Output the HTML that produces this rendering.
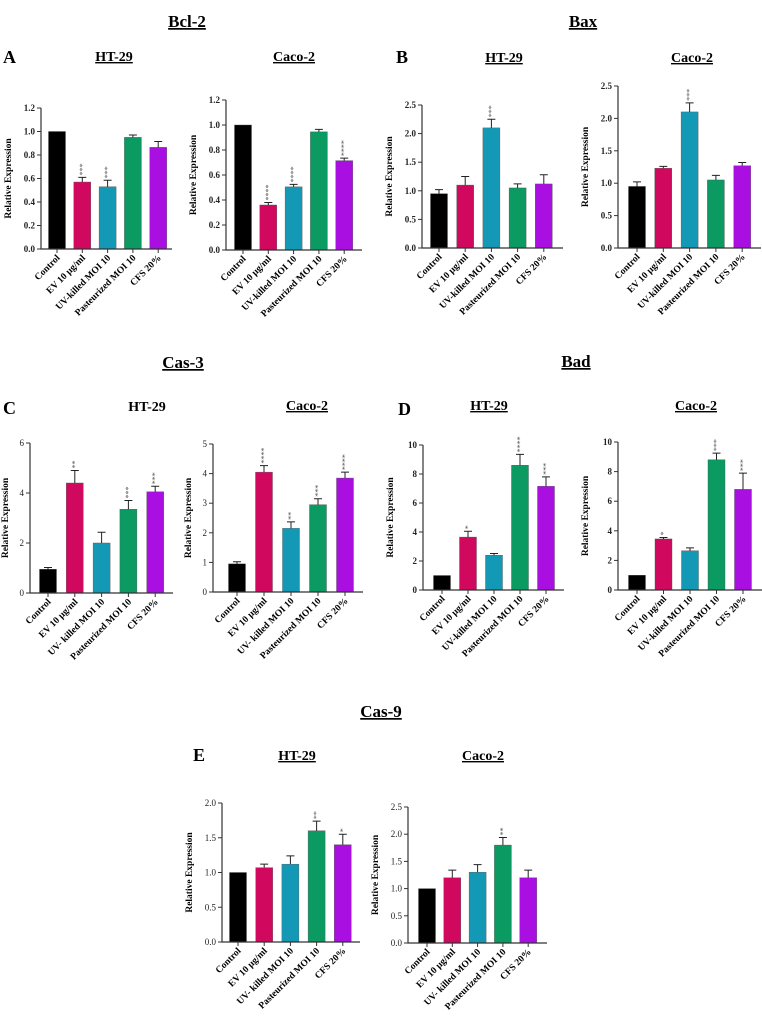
<!DOCTYPE html>
<html><head><meta charset="utf-8"><style>
html,body{margin:0;padding:0;background:#fff}
svg{display:block;font-family:"Liberation Serif",serif}
</style></head><body>
<svg id="fig" width="762" height="1016" viewBox="0 0 762 1016">
<g id="heads" font-weight="bold" fill="#000">
<text x="187" y="27" font-size="17" text-anchor="middle" text-decoration="underline">Bcl-2</text>
<text x="583" y="27" font-size="17" text-anchor="middle" text-decoration="underline">Bax</text>
<text x="183" y="368" font-size="17" text-anchor="middle" text-decoration="underline">Cas-3</text>
<text x="576" y="367" font-size="17" text-anchor="middle" text-decoration="underline">Bad</text>
<text x="381" y="717" font-size="17" text-anchor="middle" text-decoration="underline">Cas-9</text>
<text x="3" y="63" font-size="18">A</text>
<text x="396" y="63" font-size="18">B</text>
<text x="3" y="414" font-size="18">C</text>
<text x="398" y="415" font-size="18">D</text>
<text x="193" y="761" font-size="18">E</text>
</g>
<g id="charts"></g>
</svg>
<script>
// Category labels
const cats = ["Control","EV 10 µg/ml","UV-killed MOI 10","Pasteurized MOI 10","CFS 20%"];
const cats2 = ["Control","EV 10 µg/ml","UV- killed MOI 10","Pasteurized MOI 10","CFS 20%"];
const colors = ["#000000","#d0095f","#1399b5","#0a9a62","#a90fe0"];
// Data per panel
const aHtVals = [1.0,0.57,0.53,0.95,0.865];
const aHtErr = [0,0.04,0.055,0.02,0.05];
const aHtSig = ["","***","***","",""];
const aCaVals = [1.0,0.36,0.505,0.945,0.715];
const aCaErr = [0,0.02,0.02,0.02,0.02];
const aCaSig = ["","****","****","","****"];
const bHtVals = [0.95,1.1,2.1,1.05,1.12];
const bHtErr = [0.07,0.15,0.15,0.07,0.16];
const bHtSig = ["","","***","",""];
const bCaVals = [0.95,1.23,2.1,1.05,1.27];
const bCaErr = [0.07,0.03,0.14,0.07,0.05];
const bCaSig = ["","","***","",""];
const cHtVals = [0.95,4.4,2.0,3.35,4.05];
const cHtErr = [0.07,0.5,0.43,0.35,0.22];
const cHtSig = ["","**","","***","***"];
const cCaVals = [0.95,4.05,2.15,2.95,3.85];
const cCaErr = [0.07,0.22,0.22,0.2,0.2];
const cCaSig = ["","****","**","***","****"];
const dHtVals = [1.0,3.65,2.4,8.6,7.15];
const dHtErr = [0,0.4,0.12,0.75,0.65];
const dHtSig = ["","*","","****","***"];
const dCaVals = [1.0,3.45,2.65,8.8,6.8];
const dCaErr = [0,0.1,0.2,0.45,1.1];
const dCaSig = ["","*","","***","***"];
const eHtVals = [1.0,1.07,1.12,1.6,1.4];
const eHtErr = [0,0.05,0.12,0.14,0.15];
const eHtSig = ["","","","**","*"];
const eCaVals = [1.0,1.2,1.3,1.8,1.2];
const eCaErr = [0,0.14,0.14,0.14,0.14];
const eCaSig = ["","","","**",""];
const ticksA = ["0.0","0.2","0.4","0.6","0.8","1.0","1.2"];
const ticksB = ["0.0","0.5","1.0","1.5","2.0","2.5"];
const ticksC1 = ["0","2","4","6"];
const ticksC2 = ["0","1","2","3","4","5"];
const ticksD = ["0","2","4","6","8","10"];
const ticksE1 = ["0.0","0.5","1.0","1.5","2.0"];
const ticksE2 = ["0.0","0.5","1.0","1.5","2.0","2.5"];

const NS="http://www.w3.org/2000/svg";
const root=document.getElementById('charts');
function mk(tag,attrs,parent){const e=document.createElementNS(NS,tag);for(const k in attrs)e.setAttribute(k,attrs[k]);parent.appendChild(e);return e;}

const panels=[
 {id:"a-ht",title:"HT-29",tx:114,ty:61,ul:1,ax:41,x1:172,y0:249,yt:108,ticks:ticksA,c0:57,dc:25.3,vals:aHtVals,err:aHtErr,sig:aHtSig,cats:cats,bold:1},
 {id:"a-caco",title:"Caco-2",tx:294,ty:61,ul:1,ax:226,x1:362,y0:250,yt:100,ticks:ticksA,c0:243,dc:25.3,vals:aCaVals,err:aCaErr,sig:aCaSig,cats:cats,bold:1},
 {id:"b-ht",title:"HT-29",tx:504,ty:62,ul:1,ax:422,x1:563,y0:248,yt:105,ticks:ticksB,c0:439,dc:26.2,vals:bHtVals,err:bHtErr,sig:bHtSig,cats:cats,bold:1},
 {id:"b-caco",title:"Caco-2",tx:692,ty:62,ul:1,ax:618,x1:761,y0:248,yt:86,ticks:ticksB,c0:637,dc:26.3,vals:bCaVals,err:bCaErr,sig:bCaSig,cats:cats,bold:1},
 {id:"c-ht",title:"HT-29",tx:147,ty:411,ul:0,ax:30,x1:173,y0:593,yt:443,ticks:ticksC1,c0:48,dc:26.8,vals:cHtVals,err:cHtErr,sig:cHtSig,cats:cats2,bold:0},
 {id:"c-caco",title:"Caco-2",tx:307,ty:410,ul:1,ax:213,x1:363,y0:592,yt:444,ticks:ticksC2,c0:237,dc:27,vals:cCaVals,err:cCaErr,sig:cCaSig,cats:cats2,bold:0},
 {id:"d-ht",title:"HT-29",tx:489,ty:410,ul:1,ax:423,x1:564,y0:590,yt:445,ticks:ticksD,c0:442,dc:26,vals:dHtVals,err:dHtErr,sig:dHtSig,cats:cats,bold:1},
 {id:"d-caco",title:"Caco-2",tx:696,ty:410,ul:1,ax:618,x1:762,y0:590,yt:442,ticks:ticksD,c0:637,dc:26.5,vals:dCaVals,err:dCaErr,sig:dCaSig,cats:cats,bold:1},
 {id:"e-ht",title:"HT-29",tx:297,ty:760,ul:1,ax:222,x1:360,y0:942,yt:803,ticks:ticksE1,c0:238,dc:26.2,vals:eHtVals,err:eHtErr,sig:eHtSig,cats:cats2,bold:0},
 {id:"e-caco",title:"Caco-2",tx:483,ty:760,ul:1,ax:408,x1:547,y0:943,yt:807,ticks:ticksE2,c0:427,dc:25.3,vals:eCaVals,err:eCaErr,sig:eCaSig,cats:cats2,bold:0}
];

panels.forEach(p=>{
 const g=mk('g',{},root);
 
 
 const ymax=parseFloat(p.ticks[p.ticks.length-1]);
 const Y=v=>p.y0-(v/ymax)*(p.y0-p.yt);
 const X=i=>p.c0+i*p.dc;
 const t=mk('text',{x:p.tx,y:p.ty,'font-size':14,'font-weight':'bold','text-anchor':'middle'},g);
 if(p.ul)t.setAttribute('text-decoration','underline');
 t.textContent=p.title;
 
 
 p.vals.forEach((v,i)=>{
  const cx=X(i),top=Y(v);
  const r=mk('rect',{x:cx-8.5,y:top,width:17,height:p.y0-top,fill:colors[i],stroke:'#555','stroke-width':0.4},g);
  
  
  if(p.err[i]>0){
   const et=Y(v+p.err[i]);
   const l=mk('path',{d:`M${cx},${top}V${et}M${cx-4},${et}H${cx+4}`,stroke:'#222','stroke-width':1,fill:'none'},g);
   
   
  }
  if(p.sig[i]){
   const sy=Y(v+p.err[i])-2;
   const s=mk('text',{x:cx,y:sy,'font-size':8,fill:'#555',transform:`rotate(-90 ${cx} ${sy})`,'dominant-baseline':'central'},g);
   s.textContent=p.sig[i];
   
   
  }
  mk('line',{x1:cx,y1:p.y0,x2:cx,y2:p.y0+4,stroke:'#333','stroke-width':1},g);
  const lx=cx+2,ly=p.y0+8;
  const lt=mk('text',{x:lx,y:ly,'font-size':9.5,'font-weight':'bold','text-anchor':'end',transform:`rotate(-45 ${lx} ${ly})`,'dominant-baseline':'central'},g);
  lt.textContent=p.cats[i];
  
  
 });
 mk('path',{d:`M${p.ax},${p.yt}V${p.y0}H${p.x1}`,stroke:'#333','stroke-width':1.2,fill:'none'},g);
 p.ticks.forEach(tk=>{
  const ty=Y(parseFloat(tk));
  mk('line',{x1:p.ax-4,y1:ty,x2:p.ax,y2:ty,stroke:'#333','stroke-width':1},g);
  const tt=mk('text',{x:p.ax-6,y:ty,'font-size':9,'font-weight':p.bold?'bold':'normal','text-anchor':'end','dominant-baseline':'central',fill:'#222'},g);
  tt.textContent=tk;
  
  
 });
 const yl=p.ax-(p.ticks[p.ticks.length-1].length>1?30:22);
 const ym=(p.y0+p.yt)/2;
 const yt=mk('text',{x:yl,y:ym,'font-size':9.5,'font-weight':'bold','text-anchor':'middle',transform:`rotate(-90 ${yl} ${ym})`},g);
 yt.textContent='Relative Expression';
 
 
});
</script>
</body></html>
